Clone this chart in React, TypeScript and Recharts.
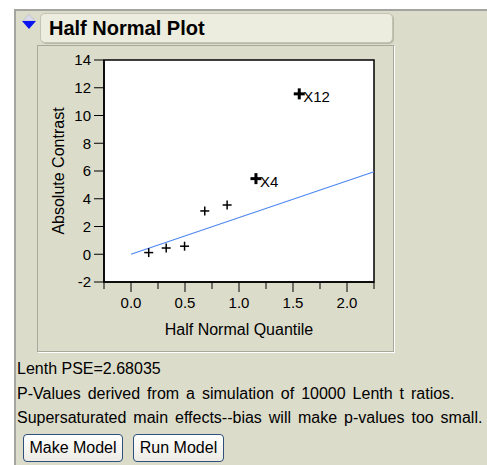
import * as React from "react";
import {
  ScatterChart,
  Scatter,
  XAxis,
  YAxis,
  ReferenceArea,
  ReferenceLine,
  Label,
} from "recharts";

// half normal plot values
const quantiles = [0.164, 0.326, 0.496, 0.683, 0.89, 1.157, 1.558];
const contrasts = [0.12, 0.45, 0.58, 3.12, 3.55, 5.45, 11.56];
const names = ["", "", "", "", "", "X4", "X12"];

// Lenth PSE reference line
const lineQ = [0, 2.25];
const lineC = [0, 5.95];

const xTicks = [-0.25, 0, 0.25, 0.5, 0.75, 1, 1.25, 1.5, 1.75, 2, 2.25];
const xLabels = ["", "0.0", "", "0.5", "", "1.0", "", "1.5", "", "2.0", ""];
const yTicks = [-2, 0, 2, 4, 6, 8, 10, 12, 14];

const notes = [
  "Lenth PSE=2.68035",
  "P-Values derived from a simulation of 10000 Lenth t ratios.",
  "Supersaturated main effects--bias will make p-values too small.",
];
const buttons = ["Make Model", "Run Model"];

const FONT = "'Liberation Sans', Arial, sans-serif";
const BG = "#dcdcca";

const points = quantiles.map((q, i) => ({ q, c: contrasts[i], name: names[i] }));

const PlusShape = (props: any) => {
  const { cx, cy, payload } = props;
  const big = !!payload.name;
  const r = big ? 5.5 : 4.5;
  return (
    <g>
      <line x1={cx - r} x2={cx + r} y1={cy} y2={cy} stroke="#000" strokeWidth={big ? 3 : 1.5} />
      <line x1={cx} x2={cx} y1={cy - r} y2={cy + r} stroke="#000" strokeWidth={big ? 3 : 1.5} />
      {big && (
        <text x={cx + 4} y={cy + 3} dy="0.36em" fontSize={15} fontFamily={FONT} fill="#000">
          {payload.name}
        </text>
      )}
    </g>
  );
};

const XTick = (props: any) => {
  const { x, y, index } = props;
  const label = xLabels[index] ?? "";
  const major = label !== "";
  return (
    <g>
      <line x1={x} x2={x} y1={y} y2={y + (major ? 10 : 7)} stroke="#000" strokeWidth={1} />
      {major && (
        <text x={x} y={y + 21} dy="0.36em" textAnchor="middle" fontSize={15} fontFamily={FONT} fill="#000">
          {label}
        </text>
      )}
    </g>
  );
};

const YTick = (props: any) => {
  const { x, y, payload } = props;
  return (
    <g>
      <line x1={x - 10} x2={x} y1={y} y2={y} stroke="#000" strokeWidth={1} />
      <text x={x - 13} y={y} dy="0.36em" textAnchor="end" fontSize={15} fontFamily={FONT} fill="#000">
        {payload.value}
      </text>
    </g>
  );
};

function Triangle() {
  return (
    <svg width={16} height={18} style={{ position: "absolute", left: 21, top: 13 }}>
      <polygon points="8,1 14,8 2,8" fill="#d8d8e8" stroke="#b0b0c0" strokeWidth={0.5} />
      <polygon points="1,8 15,8 8,16" fill="#0a14f0" />
    </svg>
  );
}

export default function App() {
  return (
    <div
      style={{
        position: "absolute",
        left: 0,
        top: 0,
        width: 487,
        height: 465,
        background: "#fff",
        fontFamily: FONT,
        overflow: "hidden",
      }}
    >
      {/* outer panel */}
      <div
        style={{
          position: "absolute",
          left: 14,
          top: 9,
          width: 480,
          height: 470,
          background: BG,
          borderTop: "2px solid #a4a4a0",
          borderLeft: "2px solid #a4a4a0",
        }}
      />
      <Triangle />
      {/* title bar */}
      <div
        style={{
          position: "absolute",
          left: 40,
          top: 13,
          width: 353,
          height: 30,
          background: "#ececdf",
          border: "1px solid #c4c4b4",
          borderRadius: 5,
          boxShadow: "1px 1px 0 #b8b8a8",
          fontWeight: "bold",
          fontSize: 20,
          lineHeight: "29px",
          paddingLeft: 8,
          boxSizing: "border-box",
          color: "#000",
        }}
      >
        Half Normal Plot
      </div>
      {/* plot frame */}
      <div
        style={{
          position: "absolute",
          left: 37,
          top: 45,
          width: 357,
          height: 307,
          border: "1px solid #a8a89c",
          boxShadow: "1px 1px 0 #fff",
          boxSizing: "border-box",
          background: BG,
        }}
      />
      <div style={{ position: "absolute", left: 37, top: 45 }}>
        <ScatterChart width={357} height={307} margin={{ top: 15, right: 20, bottom: 0, left: 0 }}>
          <ReferenceArea
            x1={-0.25}
            x2={2.25}
            y1={-2}
            y2={14}
            fill="#fff"
            fillOpacity={1}
            stroke="#000"
            strokeWidth={1.5}
            ifOverflow="visible"
          />
          <XAxis
            type="number"
            dataKey="q"
            domain={[-0.25, 2.25]}
            ticks={xTicks}
            interval={0}
            allowDataOverflow
            height={70}
            tickSize={0}
            tickMargin={0}
            axisLine={{ stroke: "#000", strokeWidth: 1.5 }}
            tick={<XTick />}
          >
            <Label
              value="Half Normal Quantile"
              position="insideBottom"
              offset={17}
              style={{ fontSize: 16, fontFamily: FONT, fill: "#000" }}
            />
          </XAxis>
          <YAxis
            type="number"
            dataKey="c"
            domain={[-2, 14]}
            ticks={yTicks}
            interval={0}
            allowDataOverflow
            width={67}
            tickSize={0}
            tickMargin={0}
            axisLine={{ stroke: "#000", strokeWidth: 1.5 }}
            tick={<YTick />}
          >
            <Label
              value="Absolute Contrast"
              angle={-90}
              position="insideLeft"
              offset={21}
              style={{ fontSize: 16, fontFamily: FONT, fill: "#000", textAnchor: "middle" }}
            />
          </YAxis>
          <ReferenceLine
            segment={[
              { x: lineQ[0], y: lineC[0] },
              { x: lineQ[1], y: lineC[1] },
            ]}
            stroke="#4d88f0"
            strokeWidth={1.2}
          />
          <Scatter data={points} shape={<PlusShape />} isAnimationActive={false} />
        </ScatterChart>
      </div>
      {/* notes */}
      {notes.map((t, i) => (
        <div
          key={i}
          style={{
            position: "absolute",
            left: 17,
            top: 357 + i * 24.5,
            fontSize: 16,
            wordSpacing: i === 0 ? 0 : 2.5,
            lineHeight: "24px",
            color: "#000",
            whiteSpace: "nowrap",
          }}
        >
          {t}
        </div>
      ))}
      {buttons.map((b, i) => (
        <div
          key={b}
          style={{
            position: "absolute",
            left: i === 0 ? 23 : 133,
            top: 434,
            width: i === 0 ? 100 : 91,
            height: 28,
            border: "1px solid #30507c",
            borderRadius: 4,
            background: "linear-gradient(#ffffff, #ecebe4)",
            boxSizing: "border-box",
            fontSize: 16,
            lineHeight: "26px",
            textAlign: "center",
            color: "#000",
          }}
        >
          {b}
        </div>
      ))}
    </div>
  );
}
